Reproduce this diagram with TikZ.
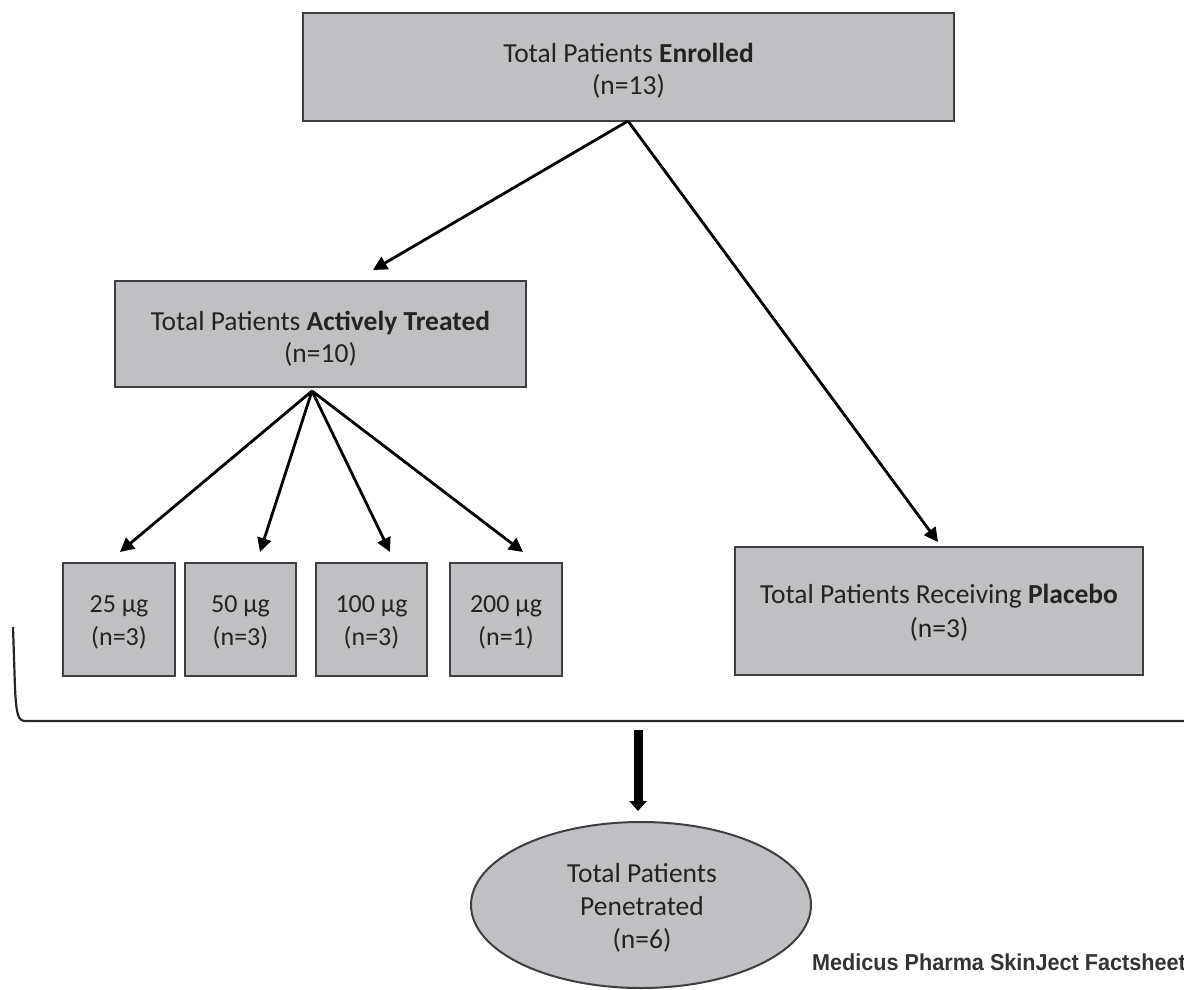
\documentclass[tikz,border=0pt]{standalone}
\usepackage{fontspec}
\setmainfont{Carlito}
\newfontfamily\wmfont{Liberation Sans}
\usetikzlibrary{arrows.meta,shapes.geometric,calc}
\definecolor{boxfill}{RGB}{192,192,194}
\definecolor{boxline}{RGB}{60,62,66}
\definecolor{txt}{RGB}{35,35,35}
\newcommand\boxlines[2][8pt]{\vbox{\kern#1\hbox{\begin{tabular}{@{}c@{}}#2\end{tabular}}}}
\tikzset{
  box/.style={draw=boxline, line width=2pt, fill=boxfill, inner sep=0pt, text=txt,
     font=\fontsize{27.5}{32}\selectfont},
  smallbox/.style={box, font=\fontsize{26}{33}\selectfont},
  arr/.style={draw=black, line width=2.8pt, -{Triangle[length=14pt,width=14pt]}},
}
\begin{document}
\begin{tikzpicture}[x=1pt,y=-1pt]
\useasboundingbox (0,0) rectangle (1184,989);
% boxes
\node[box, minimum width=651pt, minimum height=108pt] (top) at (628.5,67)
  {\boxlines[10pt]{Total Patients \textbf{Enrolled}\\(n=13)}};
\node[box, minimum width=411pt, minimum height=106pt] (act) at (320.5,334)
  {\boxlines[12pt]{Total Patients \textbf{Actively Treated}\\(n=10)}};
\node[smallbox, minimum width=112pt, minimum height=113pt] (d25) at (119,619.5) {\boxlines[6pt]{25 µg\\(n=3)}};
\node[smallbox, minimum width=111pt, minimum height=113pt] (d50) at (240.5,619.5) {\boxlines[6pt]{50 µg\\(n=3)}};
\node[smallbox, minimum width=111pt, minimum height=113pt] (d100) at (371.5,619.5) {\boxlines[6pt]{100 µg\\(n=3)}};
\node[smallbox, minimum width=112pt, minimum height=113pt] (d200) at (506,619.5) {\boxlines[6pt]{200 µg\\(n=1)}};
\node[box, minimum width=408pt, minimum height=128pt, font=\fontsize{27.5}{34}\selectfont] (plc) at (939,611)
  {\boxlines[6pt]{Total Patients Receiving \textbf{Placebo}\\(n=3)}};
\node[draw=boxline, line width=2pt, fill=boxfill, ellipse, inner sep=0pt,
      minimum width=340pt, minimum height=166pt] (pen) at (641,905) {};
\node[text=txt, font=\fontsize{27.5}{33}\selectfont, inner sep=0pt] (pentext) at (642,909)
  {\boxlines[0pt]{Total Patients\\Penetrated\\(n=6)}};
% connector points
\coordinate (tS) at (628,121);
\coordinate (aS) at (312,391);
\coordinate (tipA) at (373,270);
\coordinate (tipP) at (938,542);
\coordinate (t25) at (120,552);
\coordinate (t50) at (260,552);
\coordinate (t100) at (390,552);
\coordinate (t200) at (523,552);
\coordinate (bS) at (638,730);
\coordinate (bE) at (638,811);
% arrows
\draw[arr] (tS) -- (tipA);
\draw[arr] (tS) -- (tipP);
\draw[arr] (aS) -- (t25);
\draw[arr] (aS) -- (t50);
\draw[arr] (aS) -- (t100);
\draw[arr] (aS) -- (t200);
% bracket
\draw[line width=2.2pt, draw=black!85] (13,627) -- (15,688) .. controls (16.5,716) and (18,721) .. (26,721) -- (1184,721);
% thick arrow
\draw[line width=9pt, -{Triangle[length=10pt,width=17pt]}] (bS) -- (bE);
% watermark
\node[anchor=base west, inner sep=0pt, text=black!80] (wm) at (812,970)
  {\scalebox{0.94}[1]{\wmfont\bfseries\fontsize{23}{23}\selectfont Medicus Pharma SkinJect Factsheet}};
\end{tikzpicture}
\end{document}
